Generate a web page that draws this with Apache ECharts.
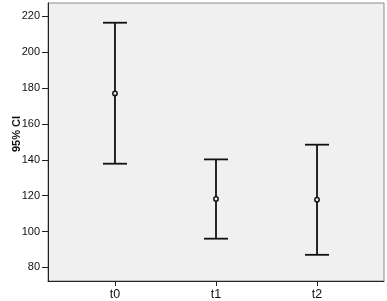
<!DOCTYPE html>
<html><head><meta charset="utf-8">
<script src="https://cdn.jsdelivr.net/npm/echarts@6/dist/echarts.min.js"></script>
<style>html,body{margin:0;padding:0;background:#fff}#c{width:387px;height:301px}</style>
</head><body><div id="c"></div>
<script>
const categories = ['t0', 't1', 't2'];
const lower = [137.8, 96.0, 87.0];
const mean = [177.0, 118.1, 117.7];
const upper = [216.4, 140.2, 148.4];
const yTicks = [80, 100, 120, 140, 160, 180, 200, 220];

const chart = echarts.init(document.getElementById('c'));
const data = categories.map((c, i) => [i, lower[i], mean[i], upper[i]]);
chart.setOption({
  animation: false,
  grid: { left: 48, right: 3, top: 3, bottom: 20, show: true, backgroundColor: '#f0f0f0', borderColor: '#8a8a8a', borderWidth: 1 },
  xAxis: {
    type: 'value', min: -0.663, max: 2.663,
    splitLine: { show: false },
    axisLine: { onZero: false, lineStyle: { color: '#222', width: 1 } },
    axisTick: { show: true, length: 5, lineStyle: { color: '#222' }, customValues: [0, 1, 2] },
    axisLabel: { customValues: [0, 1, 2], formatter: v => categories[Math.round(v)], color: '#111', fontSize: 12.5, fontFamily: 'Liberation Sans, Arial', margin: 7 }
  },
  yAxis: {
    type: 'value', min: 72.4, max: 227.4,
    splitLine: { show: false },
    axisLine: { show: true, onZero: false, lineStyle: { color: '#222', width: 1 } },
    axisTick: { show: true, length: 6, lineStyle: { color: '#222' }, customValues: yTicks },
    axisLabel: { customValues: yTicks, color: '#111', fontSize: 11, fontFamily: 'Liberation Sans, Arial', margin: 8 }
  },
  graphic: [{
    type: 'text', x: 17, y: 134, rotation: Math.PI / 2,
    style: { text: '95% CI', fill: '#111', font: 'bold 11px Liberation Sans, Arial', align: 'center', verticalAlign: 'middle' }
  }],
  series: [{
    type: 'custom',
    data: data,
    encode: { x: 0, y: [1, 2, 3] },
    renderItem: function (params, api) {
      const x = api.value(0);
      const lo = api.coord([x, api.value(1)]);
      const md = api.coord([x, api.value(2)]);
      const hi = api.coord([x, api.value(3)]);
      const hw = 12;
      const st = { stroke: '#111', lineWidth: 1.8 };
      return {
        type: 'group',
        children: [
          { type: 'line', shape: { x1: lo[0], y1: lo[1], x2: hi[0], y2: hi[1] }, style: st },
          { type: 'line', shape: { x1: lo[0] - hw, y1: lo[1], x2: lo[0] + hw, y2: lo[1] }, style: st },
          { type: 'line', shape: { x1: hi[0] - hw, y1: hi[1], x2: hi[0] + hw, y2: hi[1] }, style: st },
          { type: 'circle', shape: { cx: md[0], cy: md[1], r: 2.2 }, style: { fill: '#f0f0f0', stroke: '#111', lineWidth: 1.5 } }
        ]
      };
    }
  }]
});
</script></body></html>
